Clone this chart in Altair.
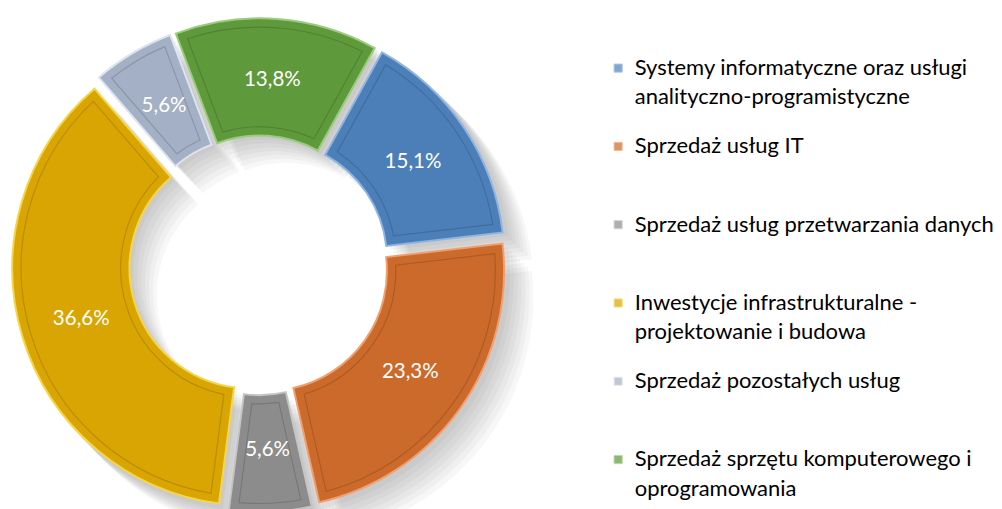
import math
import altair as alt
import pandas as pd

categories = [
    "Systemy informatyczne oraz usługi analityczno-programistyczne",
    "Sprzedaż usług IT",
    "Sprzedaż usług przetwarzania danych",
    "Inwestycje infrastrukturalne - projektowanie i budowa",
    "Sprzedaż pozostałych usług",
    "Sprzedaż sprzętu komputerowego i oprogramowania",
]
legend_text = [
    "Systemy informatyczne oraz usługi\nanalityczno-programistyczne",
    "Sprzedaż usług IT",
    "Sprzedaż usług przetwarzania danych",
    "Inwestycje infrastrukturalne -\nprojektowanie i budowa",
    "Sprzedaż pozostałych usług",
    "Sprzedaż sprzętu komputerowego i\noprogramowania",
]
values = [15.1, 23.3, 5.6, 36.6, 5.6, 13.8]
labels = ["15,1%", "23,3%", "5,6%", "36,6%", "5,6%", "13,8%"]
colors = ["#4C7FB8", "#CB6A2B", "#8C8C8C", "#D9A502", "#A4B0C5", "#5E993B"]
edge_colors = ["#8DB4E2", "#F0A070", "#C4C4C4", "#F5D54A", "#DDE4F0", "#9CCB7C"]

df = pd.DataFrame({
    "cat": categories,
    "legend": legend_text,
    "value": values,
    "label": labels,
    "order": list(range(len(values))),
})

START = math.radians(29)
EXPLODE = 10
R_OUT = 243
R_IN = 123
R_LABEL = 180
W, H = 510, 502
CX, CY = 254, 256

xs = alt.Scale(domain=[-CX, W - CX], nice=False, zero=False)
ys = alt.Scale(domain=[-(H - CY), CY], nice=False, zero=False)
ts = alt.Scale(domain=[0, 100], range=[START, START + 2 * math.pi])
cs = alt.Scale(domain=categories, range=colors)
es = alt.Scale(domain=categories, range=edge_colors)

base = alt.Chart(df).transform_window(
    cum="sum(value)", sort=[alt.SortField("order")], frame=[None, 0]
).transform_calculate(
    t0="datum.cum - datum.value",
    mid=f"{START} + 2*PI*(datum.cum - datum.value/2)/100",
).transform_calculate(
    dx=f"{EXPLODE}*sin(datum.mid)",
    dy=f"{EXPLODE}*cos(datum.mid)",
    lx=f"{R_LABEL + EXPLODE}*sin(datum.mid)",
    ly=f"{R_LABEL + EXPLODE}*cos(datum.mid)",
)

layers = []
# soft shadow toward lower right
for k in range(1, 8):
    layers.append(
        base.transform_calculate(
            sx=f"datum.dx + {k * 4}", sy=f"datum.dy - {k * 4}"
        ).mark_arc(innerRadius=R_IN, outerRadius=R_OUT + 2, color="#000000", opacity=0.03).encode(
            theta=alt.Theta("t0:Q", scale=ts),
            theta2="cum:Q",
            x=alt.X("sx:Q", scale=xs, axis=None),
            y=alt.Y("sy:Q", scale=ys, axis=None),
        )
    )

slices = base.mark_arc(innerRadius=R_IN, outerRadius=R_OUT, strokeWidth=2).encode(
    theta=alt.Theta("t0:Q", scale=ts),
    theta2="cum:Q",
    x=alt.X("dx:Q", scale=xs, axis=None),
    y=alt.Y("dy:Q", scale=ys, axis=None),
    color=alt.Color("cat:N", scale=cs, legend=None),
    stroke=alt.Stroke("cat:N", scale=es, legend=None),
)
face = base.mark_arc(
    innerRadius=R_IN + 9, outerRadius=R_OUT - 9, padAngle=0.07, fillOpacity=0,
    strokeWidth=1.2, stroke="#000000", strokeOpacity=0.15,
).encode(
    theta=alt.Theta("t0:Q", scale=ts),
    theta2="cum:Q",
    x=alt.X("dx:Q", scale=xs, axis=None),
    y=alt.Y("dy:Q", scale=ys, axis=None),
)
text = base.mark_text(font="Lato", fontSize=21, color="white").encode(
    x=alt.X("lx:Q", scale=xs, axis=None),
    y=alt.Y("ly:Q", scale=ys, axis=None),
    text="label:N",
)

donut = alt.layer(*layers, slices, face, text).properties(width=W, height=H)

ly_scale = alt.Scale(type="point", range=[54, 455], padding=0)
leg_base = alt.Chart(df)
leg_sym = leg_base.mark_square(size=70, strokeWidth=1).encode(
    x=alt.value(22),
    y=alt.Y("cat:N", sort=categories, scale=ly_scale, axis=None),
    color=alt.Color("cat:N", scale=cs, legend=None),
    stroke=alt.Stroke("cat:N", scale=es, legend=None),
)
leg_txt = leg_base.mark_text(
    align="left", baseline="alphabetic", dy=7, lineBreak="\n", lineHeight=30,
    font="Lato", fontSize=22.5, color="#000000",
).encode(
    x=alt.value(39),
    y=alt.Y("cat:N", sort=categories, scale=ly_scale, axis=None),
    text="legend:N",
)
legend = alt.layer(leg_sym, leg_txt).properties(width=380, height=H)

chart = alt.hconcat(donut, legend, spacing=90, bounds="flush").properties(
    padding=0, background="white"
).configure_view(strokeWidth=0, stroke="transparent")

chart.save("out.html", embed_options={"renderer": "svg", "actions": False})
